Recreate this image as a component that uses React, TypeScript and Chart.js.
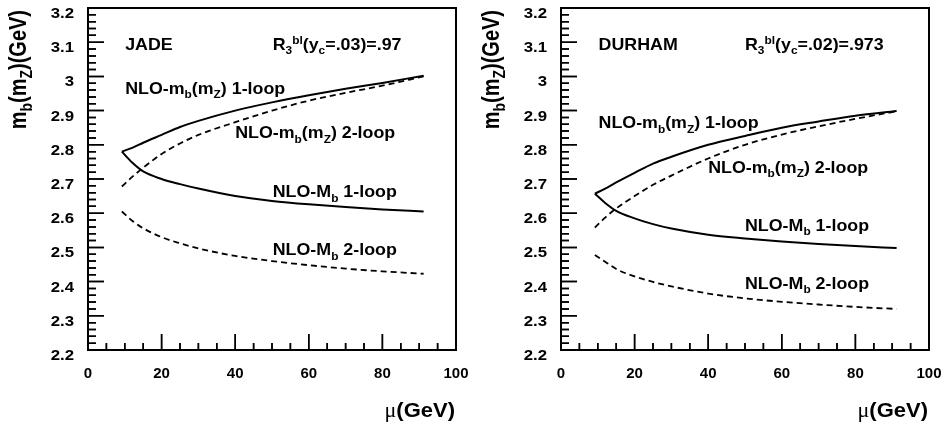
import React, { useEffect, useRef } from 'react';
import { Chart, registerables } from 'chart.js';
Chart.register(...registerables);

// ---------------- DATA ----------------
const MU = [9.2, 12, 15, 20, 25, 30, 40, 50, 60, 70, 80, 91.2];

const JADE_MB_MZ_1LOOP = [2.780, 2.791, 2.806, 2.829, 2.852, 2.870, 2.900, 2.924, 2.945, 2.964, 2.981, 3.002];
const JADE_MB_MZ_2LOOP = [2.678, 2.706, 2.733, 2.773, 2.804, 2.829, 2.866, 2.900, 2.929, 2.952, 2.973, 3.000];
const JADE_MPOLE_1LOOP = [2.780, 2.748, 2.722, 2.700, 2.685, 2.672, 2.650, 2.636, 2.626, 2.618, 2.611, 2.605];
const JADE_MPOLE_2LOOP = [2.605, 2.578, 2.556, 2.530, 2.512, 2.497, 2.475, 2.460, 2.448, 2.438, 2.430, 2.423];

const DURHAM_MB_MZ_1LOOP = [2.657, 2.672, 2.690, 2.718, 2.745, 2.765, 2.800, 2.826, 2.850, 2.868, 2.885, 2.899];
const DURHAM_MB_MZ_2LOOP = [2.558, 2.587, 2.614, 2.650, 2.683, 2.710, 2.760, 2.800, 2.830, 2.854, 2.876, 2.898];
const DURHAM_MPOLE_1LOOP = [2.657, 2.630, 2.607, 2.585, 2.568, 2.555, 2.537, 2.526, 2.517, 2.510, 2.504, 2.498];
const DURHAM_MPOLE_2LOOP = [2.478, 2.458, 2.437, 2.415, 2.399, 2.386, 2.365, 2.351, 2.341, 2.333, 2.326, 2.320];

const X_TICKS = [0, 20, 40, 60, 80, 100];
const Y_TICKS = [2.2, 2.3, 2.4, 2.5, 2.6, 2.7, 2.8, 2.9, 3.0, 3.1, 3.2];
const X_MINOR_PER_MAJOR = 4;
const Y_MINOR_PER_MAJOR = 5;

const CURVE_LABELS = ['NLO-m_{b}(m_{Z}) 1-loop', 'NLO-m_{b}(m_{Z}) 2-loop', 'NLO-M_{b} 1-loop', 'NLO-M_{b} 2-loop'];
const JADE_HEADER = ['JADE', 'R_{3}^{bl}(y_{c}=.03)=.97'];
const DURHAM_HEADER = ['DURHAM', 'R_{3}^{bl}(y_{c}=.02)=.973'];
const Y_TITLE = 'm_{b}(m_{Z})(GeV)';
const X_TITLE_SYMBOL = '\u03bc';
const X_TITLE_UNIT = '(GeV)';

// label anchors in data coordinates (layout, not data)
const JADE_LABEL_POS = [[10.1, 2.949], [40, 2.820], [50.2, 2.647], [50.2, 2.478]];
const DURHAM_LABEL_POS = [[10.2, 2.849], [40, 2.719], [50, 2.549], [50, 2.379]];
const JADE_HEADER_POS = [[10.1, 3.078], [50.2, 3.078]];
const DURHAM_HEADER_POS = [[10.2, 3.078], [50, 3.078]];

// ---------------- RICH TEXT ----------------
type Seg = { t: string; mode: number };
function parse(text: string): Seg[] {
  const out: Seg[] = [];
  let buf = '';
  let i = 0;
  while (i < text.length) {
    const c = text[i];
    if ((c === '_' || c === '^') && text[i + 1] === '{') {
      if (buf) { out.push({ t: buf, mode: 0 }); buf = ''; }
      const end = text.indexOf('}', i);
      out.push({ t: text.slice(i + 2, end), mode: c === '_' ? 1 : 2 });
      i = end + 1;
    } else {
      buf += c;
      i++;
    }
  }
  if (buf) out.push({ t: buf, mode: 0 });
  return out;
}

const FAMILY = '"Liberation Sans", Arial, Helvetica, sans-serif';

function drawRich(
  ctx: CanvasRenderingContext2D,
  text: string,
  x: number,
  y: number,
  o: { size: number; sx?: number; sy?: number; align?: string; rot?: number }
) {
  const segs = parse(text);
  const sx = o.sx ?? 1;
  const sy = o.sy ?? 1;
  ctx.save();
  ctx.translate(x, y);
  if (o.rot) ctx.rotate(o.rot);
  ctx.scale(sx, sy);
  ctx.fillStyle = '#000';
  ctx.textBaseline = 'alphabetic';
  ctx.textAlign = 'left';
  const fontFor = (m: number) => `bold ${m === 0 ? o.size : Math.round(o.size * 0.68)}px ${FAMILY}`;
  let total = 0;
  const widths = segs.map((s) => {
    ctx.font = fontFor(s.mode);
    const w = ctx.measureText(s.t).width;
    total += w;
    return w;
  });
  let cx = 0;
  if (o.align === 'right') cx = -total;
  else if (o.align === 'center') cx = -total / 2;
  segs.forEach((s, k) => {
    ctx.font = fontFor(s.mode);
    const dy = s.mode === 1 ? o.size * 0.28 : s.mode === 2 ? -o.size * 0.36 : 0;
    ctx.fillText(s.t, cx, dy);
    cx += widths[k];
  });
  ctx.restore();
}

function drawTicks(chart: any) {
  const ctx: CanvasRenderingContext2D = chart.ctx;
  const xs = chart.scales.x;
  const ys = chart.scales.y;
  const a = chart.chartArea;
  ctx.save();
  ctx.setLineDash([]);
  ctx.strokeStyle = '#000000';
  ctx.lineWidth = 1.5;
  ctx.beginPath();
  const ny = (Y_TICKS.length - 1) * Y_MINOR_PER_MAJOR;
  const y0 = Y_TICKS[0];
  const yStep = (Y_TICKS[Y_TICKS.length - 1] - y0) / ny;
  for (let k = 0; k <= ny; k++) {
    const p = ys.getPixelForValue(y0 + k * yStep);
    const len = k % Y_MINOR_PER_MAJOR === 0 ? 16 : 8;
    ctx.moveTo(a.left, p);
    ctx.lineTo(a.left + len, p);
  }
  const nx = (X_TICKS.length - 1) * X_MINOR_PER_MAJOR;
  const x0 = X_TICKS[0];
  const xStep = (X_TICKS[X_TICKS.length - 1] - x0) / nx;
  for (let k = 0; k <= nx; k++) {
    const p = xs.getPixelForValue(x0 + k * xStep);
    const len = k % X_MINOR_PER_MAJOR === 0 ? 16 : 7;
    ctx.moveTo(p, a.bottom);
    ctx.lineTo(p, a.bottom - len);
  }
  ctx.stroke();
  ctx.restore();
}

// ---------------- PLUGIN ----------------
function decorPlugin(header: string[], headerPos: number[][], labelPos: number[][]) {
  return {
    id: 'decor',
    beforeDatasetsDraw(chart: any) {
      drawTicks(chart);
    },
    afterDraw(chart: any) {
      const ctx: CanvasRenderingContext2D = chart.ctx;
      const xs = chart.scales.x;
      const ys = chart.scales.y;
      const a = chart.chartArea;
      drawTicks(chart);
      ctx.save();
      ctx.setLineDash([]);
      ctx.strokeStyle = '#000000';
      ctx.lineWidth = 2;
      ctx.strokeRect(a.left, a.top, a.right - a.left, a.bottom - a.top);

      // tick labels
      Y_TICKS.forEach((v) => {
        const lbl = String(Math.round(v * 10) / 10);
        drawRich(ctx, lbl, a.left - 14, ys.getPixelForValue(v) + 10, { size: 14, sx: 1.2, align: 'right' });
      });
      X_TICKS.forEach((v) => {
        drawRich(ctx, String(v), xs.getPixelForValue(v), a.bottom + 27.5, { size: 15, align: 'center' });
      });

      // axis titles
      drawRich(ctx, Y_TITLE, 25.5, a.top + 2, { size: 20, sx: 1.0, sy: 1.15, align: 'right', rot: -Math.PI / 2 });
      ctx.font = `bold 20px ${FAMILY}`;
      const unitW = ctx.measureText(X_TITLE_UNIT).width * 1.1;
      drawRich(ctx, X_TITLE_UNIT, a.right - 1, 417, { size: 20, sx: 1.1, align: 'right' });
      ctx.fillStyle = '#000';
      ctx.font = `22px "Liberation Serif", "Times New Roman", serif`;
      ctx.textAlign = 'right';
      ctx.textBaseline = 'alphabetic';
      ctx.fillText(X_TITLE_SYMBOL, a.right - 1 - unitW, 417);

      // header + curve labels
      header.forEach((h, i) => {
        drawRich(ctx, h, xs.getPixelForValue(headerPos[i][0]), ys.getPixelForValue(headerPos[i][1]), { size: 16.5, sx: 1.08 });
      });
      CURVE_LABELS.forEach((l, i) => {
        drawRich(ctx, l, xs.getPixelForValue(labelPos[i][0]), ys.getPixelForValue(labelPos[i][1]), { size: 16.5, sx: 1.08 });
      });
      ctx.restore();
    },
  };
}

function makeDataset(values: number[], dashed: boolean) {
  return {
    data: MU.map((m, i) => ({ x: m, y: values[i] })),
    borderColor: '#000',
    borderWidth: dashed ? 1.8 : 2,
    borderDash: dashed ? [6, 4] : [],
    pointRadius: 0,
    fill: false,
    cubicInterpolationMode: 'monotone',
  };
}

function Panel(props: { series: number[][]; header: string[]; headerPos: number[][]; labelPos: number[][]; width: number }) {
  const ref = useRef<HTMLCanvasElement | null>(null);
  useEffect(() => {
    if (!ref.current) return;
    const [m1, m2, p1, p2] = props.series;
    const chart = new Chart(ref.current, {
      type: 'line',
      data: {
        datasets: [makeDataset(m1, false), makeDataset(m2, true), makeDataset(p1, false), makeDataset(p2, true)],
      },
      options: {
        responsive: false,
        animation: false,
        devicePixelRatio: 1,
        layout: { padding: { top: 8, right: props.width - 456, left: 0, bottom: 0 } },
        plugins: { legend: { display: false }, tooltip: { enabled: false } },
        scales: {
          x: {
            type: 'linear',
            min: 0,
            max: 100,
            grid: { display: false },
            border: { display: false },
            ticks: { display: false },
            afterFit: (s: any) => { s.height = 79; },
          },
          y: {
            type: 'linear',
            min: 2.2,
            max: 3.2,
            grid: { display: false },
            border: { display: false },
            ticks: { display: false },
            afterFit: (s: any) => { s.width = 88; },
          },
        },
      } as any,
      plugins: [decorPlugin(props.header, props.headerPos, props.labelPos)],
    } as any);
    return () => chart.destroy();
  }, []);
  return <canvas ref={ref} width={props.width} height={429} style={{ display: 'block', width: props.width, height: 429 }} />;
}

export default function App() {
  return (
    <div style={{ position: 'fixed', left: 0, top: 0, width: 947, height: 429, background: '#fff', display: 'flex' }}>
      <Panel
        width={473}
        series={[JADE_MB_MZ_1LOOP, JADE_MB_MZ_2LOOP, JADE_MPOLE_1LOOP, JADE_MPOLE_2LOOP]}
        header={JADE_HEADER}
        headerPos={JADE_HEADER_POS}
        labelPos={JADE_LABEL_POS}
      />
      <Panel
        width={474}
        series={[DURHAM_MB_MZ_1LOOP, DURHAM_MB_MZ_2LOOP, DURHAM_MPOLE_1LOOP, DURHAM_MPOLE_2LOOP]}
        header={DURHAM_HEADER}
        headerPos={DURHAM_HEADER_POS}
        labelPos={DURHAM_LABEL_POS}
      />
    </div>
  );
}
